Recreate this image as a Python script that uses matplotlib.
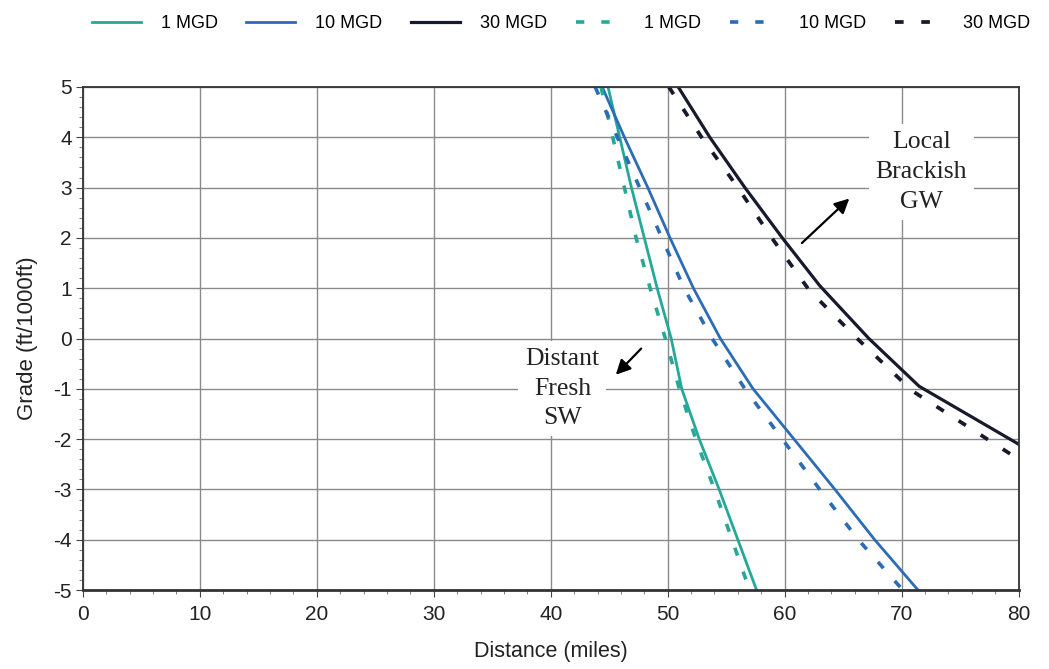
import numpy as np
import matplotlib
matplotlib.use("Agg")
import matplotlib.pyplot as plt
from matplotlib.ticker import MultipleLocator

# grade values (ft/1000ft) and the distance each curve reaches at that grade
grade = [5, 4, 3, 2, 1, 0, -1, -2, -3, -4, -5]

fresh_1_solid = [44.9, 45.9, 46.9, 48.0, 49.1, 50.3, 51.2, 52.7, 54.4, 56.0, 57.6]
fresh_1_dash = [44.3, 45.3, 46.3, 47.3, 48.5, 49.8, 51.0, 52.4, 54.0, 55.5, 57.0]

fresh_10_solid = [44.4, 46.3, 48.3, 50.2, 52.2, 54.5, 57.3, 60.8, 64.3, 67.7, 71.4]
fresh_10_dash = [43.8, 45.7, 47.6, 49.5, 51.4, 53.8, 56.6, 59.8, 63.0, 66.3, 70.1]

# 30 MGD curves stop at the right edge of the chart
grade_30_solid = [5, 4, 3, 2, 1.05, 0, -0.95, -2.1]
dist_30_solid = [50.9, 53.6, 56.6, 59.8, 63.0, 67.2, 71.5, 80.0]
grade_30_dash = [5, 4, 3, 2, 0.96, 0, -1.04, -2.4]
dist_30_dash = [50.1, 52.9, 56.0, 58.9, 62.1, 66.2, 70.9, 80.0]

teal = "#26a899"
blue = "#2b6cb5"
dark = "#161a2c"
dash = (0, (2.3, 4.7))

plt.rcParams['font.family'] = ['Liberation Sans', 'DejaVu Sans']
plt.rcParams['axes.unicode_minus'] = False

fig = plt.figure(figsize=(10.49, 6.69), dpi=100)
ax = fig.add_axes([0.079, 0.118, 0.892, 0.752])

ax.plot(fresh_1_solid, grade, color=teal, lw=2.0, label="1 MGD")
ax.plot(fresh_10_solid, grade, color=blue, lw=2.0, label="10 MGD")
ax.plot(dist_30_solid, grade_30_solid, color=dark, lw=2.3, label="30 MGD")
ax.plot(fresh_1_dash, grade, color=teal, lw=2.6, ls=dash, label="1 MGD")
ax.plot(fresh_10_dash, grade, color=blue, lw=2.6, ls=dash, label="10 MGD")
ax.plot(dist_30_dash, grade_30_dash, color=dark, lw=2.7, ls=dash, label="30 MGD")

ax.set_xlim(0, 80)
ax.set_ylim(-5, 5)
ax.xaxis.set_major_locator(MultipleLocator(10))
ax.xaxis.set_minor_locator(MultipleLocator(2))
ax.yaxis.set_major_locator(MultipleLocator(1))
ax.yaxis.set_minor_locator(MultipleLocator(0.2))
ax.grid(True, which="major", color="#8a8a8a", lw=1.0)
ax.set_axisbelow(True)
ax.tick_params(which="major", direction="out", length=5, labelsize=15, color="#444444",
               labelcolor="#222222")
ax.tick_params(axis="x", which="major", pad=6)
ax.tick_params(axis="y", which="major", pad=3)
ax.tick_params(which="minor", direction="out", length=3, color="#666666")
for side in ["left", "right", "top"]:
    ax.spines[side].set_color("#333333")
    ax.spines[side].set_linewidth(1.3)
ax.spines["bottom"].set_color("#333333")
ax.spines["bottom"].set_linewidth(2.0)

ax.set_xlabel("Distance (miles)", fontsize=15.5, labelpad=12, color="#222222")
ax.set_ylabel("Grade (ft/1000ft)", fontsize=16, labelpad=11, color="#222222")

# annotations with white boxes over the grid
ax.text(71.7, 3.31, "Local\nBrackish\nGW", family="Liberation Serif", fontsize=18.5,
        ha="center", va="center", linespacing=1.45, color="#222222",
        bbox=dict(facecolor="white", edgecolor="none", pad=5))
ax.annotate("", xy=(65.7, 2.82), xytext=(61.3, 1.86),
            arrowprops=dict(arrowstyle="-|>", color="black", lw=1.6, mutation_scale=22))
ax.text(41.0, -1.0, "Distant\nFresh\nSW", family="Liberation Serif", fontsize=18.5,
        ha="center", va="center", linespacing=1.45, color="#222222",
        bbox=dict(facecolor="white", edgecolor="none", pad=5))
ax.annotate("", xy=(45.4, -0.76), xytext=(47.9, -0.16),
            arrowprops=dict(arrowstyle="-|>", color="black", lw=1.6, mutation_scale=22))

fig.legend(loc="center", bbox_to_anchor=(0.535, 0.965), ncol=6, frameon=False,
           fontsize=13, handlelength=2.7, columnspacing=1.6, handletextpad=1.1)

fig.savefig("out.png", dpi=100)
